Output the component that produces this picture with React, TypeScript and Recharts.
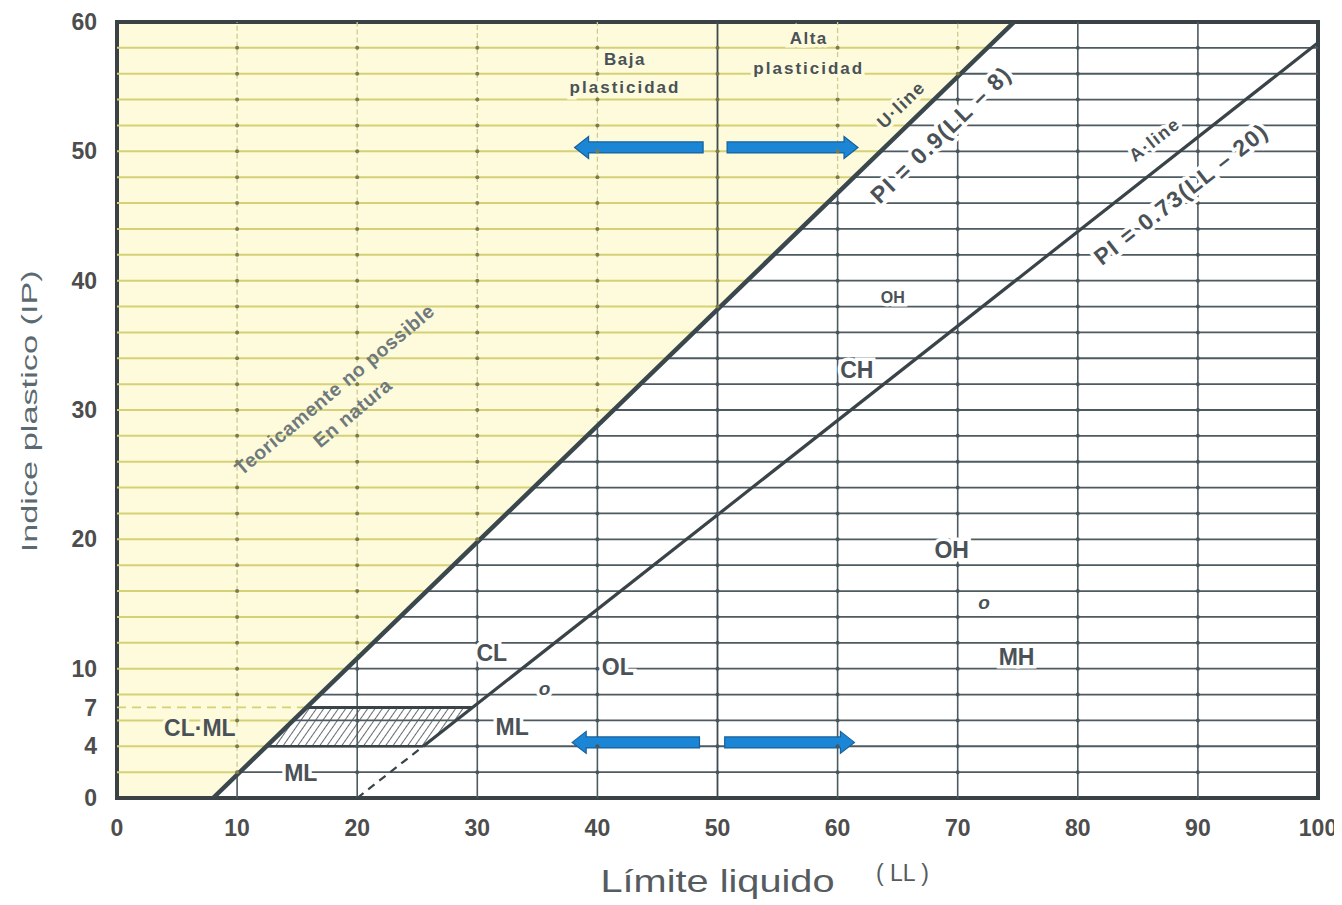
import React from 'react';
import {
  ComposedChart,
  XAxis,
  YAxis,
  Line,
  Area,
  Scatter,
  ReferenceLine,
  ReferenceDot,
  ReferenceArea,
} from 'recharts';

// axis ticks
const LL_TICKS = [0, 10, 20, 30, 40, 50, 60, 70, 80, 90, 100];
const PI_TICKS = [0, 4, 7, 10, 20, 30, 40, 50, 60];

// ruled paper lines
const PI_GRID = [2, 4, 6, 8, 10, 12, 14, 16, 18, 20, 22, 24, 26, 28, 30, 32, 34, 36, 38, 40, 42, 44, 46, 48, 50, 52, 54, 56, 58];
const LL_GRID = [10, 20, 30, 40, 60, 70, 80, 90];
const LL_DIVIDER = 50;

// U-line PI = 0.9(LL - 8), A-line PI = 0.73(LL - 20)
const U_LINE = [
  { ll: 8, pi: 0 },
  { ll: 74.7, pi: 60 },
];
const A_LINE = [
  { ll: 25.5, pi: 4 },
  { ll: 100, pi: 58.4 },
];
const A_LINE_DASHED = [
  { ll: 20, pi: 0 },
  { ll: 25.5, pi: 4 },
];
const CLML_TOP = [
  { ll: 15.8, pi: 7 },
  { ll: 29.6, pi: 7 },
];
const CLML_BOTTOM = [
  { ll: 12.4, pi: 4 },
  { ll: 25.5, pi: 4 },
];
const CLML_DASHED = [
  { ll: 0, pi: 7 },
  { ll: 15.8, pi: 7 },
];
const CLML_ZONE = [
  { ll: 12.4, lo: 4, hi: 4 },
  { ll: 15.8, lo: 4, hi: 7 },
  { ll: 25.5, lo: 4, hi: 7 },
  { ll: 29.6, lo: 7, hi: 7 },
];
const IMPOSSIBLE_ZONE = [
  { ll: 0, lo: 0, hi: 60 },
  { ll: 8, lo: 0, hi: 60 },
  { ll: 74.7, lo: 60, hi: 60 },
];

// blue arrows (tail LL, tip LL, PI)
const ARROWS = [
  { from: 48.8, to: 38.1, pi: 50.3 },
  { from: 50.8, to: 61.7, pi: 50.3 },
  { from: 48.5, to: 37.9, pi: 4.3 },
  { from: 50.6, to: 61.4, pi: 4.3 },
];

const FONT = "'Liberation Sans', Arial, sans-serif";
const YELLOW = '#fdfbdb';
const YELLOW_LINE = '#d6d177';
const DARK_LINE = '#4d5a60';
const TEXT = '#4a5257';

type Note = {
  ll: number;
  pi: number;
  text: string;
  size: number;
  angle?: number;
  halo?: string;
  italic?: boolean;
  weight?: number;
  color?: string;
  spacing?: number;
};

const NOTES: Note[] = [
  { ll: 42.3, pi: 57.1, text: 'Baja', size: 17, halo: YELLOW, spacing: 1.5 },
  { ll: 42.3, pi: 54.9, text: 'plasticidad', size: 17, halo: YELLOW, spacing: 2 },
  { ll: 57.6, pi: 58.7, text: 'Alta', size: 17, halo: YELLOW, spacing: 1.5 },
  { ll: 57.6, pi: 56.4, text: 'plasticidad', size: 17, halo: YELLOW, spacing: 2 },
  { ll: 65.3, pi: 53.6, text: 'U·line', size: 18, angle: -44, halo: YELLOW, spacing: 1.5 },
  { ll: 68.6, pi: 51.3, text: 'PI = 0.9(LL – 8)', size: 23, angle: -44, halo: '#ffffff', spacing: 1.5 },
  { ll: 86.4, pi: 50.9, text: 'A·line', size: 18, angle: -38, halo: '#ffffff', spacing: 1.5 },
  { ll: 88.6, pi: 46.7, text: 'PI = 0.73(LL – 20)', size: 23, angle: -38, halo: '#ffffff', spacing: 1.5 },
  { ll: 18.1, pi: 31.6, text: 'Teoricamente no possible', size: 19.5, angle: -40, weight: 700, color: '#6f797c', spacing: 0.6 },
  { ll: 19.6, pi: 29.8, text: 'En natura', size: 19.5, angle: -40, weight: 700, color: '#6f797c', spacing: 0.6 },
  { ll: 64.6, pi: 38.7, text: 'OH', size: 16, halo: '#ffffff' },
  { ll: 61.6, pi: 33.1, text: 'CH', size: 23, halo: '#ffffff' },
  { ll: 69.5, pi: 19.2, text: 'OH', size: 23, halo: '#ffffff' },
  { ll: 72.2, pi: 15.1, text: 'o', size: 19, halo: '#ffffff', italic: true },
  { ll: 74.9, pi: 10.9, text: 'MH', size: 23, halo: '#ffffff' },
  { ll: 31.2, pi: 11.2, text: 'CL', size: 23, halo: '#ffffff' },
  { ll: 41.7, pi: 10.1, text: 'OL', size: 23, halo: '#ffffff' },
  { ll: 35.6, pi: 8.5, text: 'o', size: 19, halo: '#ffffff', italic: true },
  { ll: 32.9, pi: 5.5, text: 'ML', size: 23, halo: '#ffffff' },
  { ll: 6.9, pi: 5.4, text: 'CL·ML', size: 23, halo: YELLOW },
  { ll: 15.3, pi: 1.9, text: 'ML', size: 23, halo: '#ffffff' },
];

const uLineLLAt = (pi: number) =>
  U_LINE[0].ll + ((pi - U_LINE[0].pi) * (U_LINE[1].ll - U_LINE[0].ll)) / (U_LINE[1].pi - U_LINE[0].pi);
const uLinePIAt = (ll: number) =>
  U_LINE[0].pi + ((ll - U_LINE[0].ll) * (U_LINE[1].pi - U_LINE[0].pi)) / (U_LINE[1].ll - U_LINE[0].ll);

// little dots where the ruled lines cross
const CROSSINGS = [...LL_GRID, LL_DIVIDER].flatMap((v) => PI_GRID.map((p) => ({ ll: v, pi: p })));

function seg(key: string, pts: { ll: number; pi: number }[], stroke: string, width: number, dash?: string) {
  return (
    <Line
      key={key}
      data={pts}
      dataKey="pi"
      stroke={stroke}
      strokeWidth={width}
      strokeDasharray={dash}
      dot={false}
      activeDot={false}
      legendType="none"
      isAnimationActive={false}
    />
  );
}

function Arrow(props: any) {
  const { x1, y1, x2 } = props;
  const dir = x2 > x1 ? 1 : -1;
  const h = 5.5;
  const H = 11;
  const L = 14;
  const b = x2 - dir * L;
  const pts = [
    [x1, y1 - h],
    [b, y1 - h],
    [b, y1 - H],
    [x2, y1],
    [b, y1 + H],
    [b, y1 + h],
    [x1, y1 + h],
  ]
    .map((p) => p.join(','))
    .join(' ');
  return <polygon points={pts} fill="#1c86d6" stroke="#17609c" strokeWidth={1.2} />;
}

function noteShape(n: Note) {
  return (props: any) => {
    const { cx, cy } = props;
    return (
      <text
        x={cx}
        y={cy}
        textAnchor="middle"
        dominantBaseline="central"
        transform={n.angle ? `rotate(${n.angle} ${cx} ${cy})` : undefined}
        fontFamily={FONT}
        fontSize={n.size}
        fontWeight={n.weight ?? 700}
        fontStyle={n.italic ? 'italic' : 'normal'}
        letterSpacing={n.spacing ?? 0}
        fill={n.color ?? TEXT}
        stroke={n.halo ?? 'none'}
        strokeWidth={n.halo ? 7 : 0}
        paintOrder="stroke"
      >
        {n.text}
      </text>
    );
  };
}

function CrossDot(props: any) {
  const { cx, cy, payload } = props;
  const inYellow = payload && payload.ll < uLineLLAt(payload.pi);
  return <circle cx={cx} cy={cy} r={2} fill={inYellow ? '#7d7a4c' : '#4a565b'} />;
}

export default function App() {
  return (
    <div style={{ width: 1334, height: 897, background: '#fff' }}>
      <ComposedChart width={1334} height={897} margin={{ top: 14, right: 24, left: 49, bottom: 67 }}>
        <defs>
          <pattern id="hatch" width="6" height="6" patternUnits="userSpaceOnUse" patternTransform="rotate(35)">
            <rect width="6" height="6" fill="#ffffff" />
            <line x1="0" y1="0" x2="0" y2="6" stroke="#3d4549" strokeWidth="1.6" />
          </pattern>
        </defs>
        <XAxis
          type="number"
          dataKey="ll"
          domain={[0, 100]}
          ticks={LL_TICKS}
          interval={0}
          allowDataOverflow
          axisLine={false}
          tickLine={false}
          tickSize={8}
          tickMargin={14}
          height={40}
          tick={{ fill: '#4d4d4d', fontSize: 23, fontWeight: 700, fontFamily: FONT }}
        />
        <YAxis
          type="number"
          dataKey="pi"
          domain={[0, 60]}
          ticks={PI_TICKS}
          interval={0}
          allowDataOverflow
          axisLine={false}
          tickLine={false}
          tickSize={8}
          tickMargin={12}
          width={60}
          tick={{ fill: '#4d4d4d', fontSize: 23, fontWeight: 700, fontFamily: FONT }}
        />

        <Area
          data={IMPOSSIBLE_ZONE}
          dataKey={(d: any) => [d.lo, d.hi]}
          type="linear"
          fill={YELLOW}
          fillOpacity={1}
          stroke="none"
          isAnimationActive={false}
          legendType="none"
          activeDot={false}
        />

        {PI_GRID.map((p) =>
          seg(`hy${p}`, [{ ll: 0, pi: p }, { ll: uLineLLAt(p), pi: p }], YELLOW_LINE, 2),
        )}
        {PI_GRID.map((p) =>
          seg(`hd${p}`, [{ ll: uLineLLAt(p), pi: p }, { ll: 100, pi: p }], DARK_LINE, 1.8),
        )}
        {LL_GRID.map((v) => {
          const cut = Math.max(0, Math.min(60, uLinePIAt(v)));
          return [
            cut < 60 ? seg(`vy${v}`, [{ ll: v, pi: cut }, { ll: v, pi: 60 }], '#cfcb93', 1.3, '5 3') : null,
            cut > 0 ? seg(`vd${v}`, [{ ll: v, pi: 0 }, { ll: v, pi: cut }], DARK_LINE, 1.6) : null,
          ];
        })}
        {seg('divider', [{ ll: LL_DIVIDER, pi: 0 }, { ll: LL_DIVIDER, pi: 60 }], '#3f4a4f', 1.8)}
        {seg('clmlDash', CLML_DASHED, YELLOW_LINE, 1.8, '9 6')}

        <Scatter
          data={CROSSINGS}
          dataKey="pi"
          shape={(p: any) => <CrossDot {...p} />}
          isAnimationActive={false}
          legendType="none"
        />

        <Area
          data={CLML_ZONE}
          dataKey={(d: any) => [d.lo, d.hi]}
          type="linear"
          fill="url(#hatch)"
          fillOpacity={1}
          stroke="none"
          isAnimationActive={false}
          legendType="none"
          activeDot={false}
        />

        {seg('clmlTop', CLML_TOP, '#3a4347', 3)}
        {seg('clmlBottom', CLML_BOTTOM, '#3a4347', 2.4)}
        {seg('aDash', A_LINE_DASHED, '#3a4347', 2.2, '8 6')}
        {seg('aLine', A_LINE, '#3a4347', 3.2)}
        {seg('uLine', U_LINE, '#3a474c', 4.5)}

        {ARROWS.map((a, i) => (
          <ReferenceLine
            key={`ar${i}`}
            segment={[
              { x: a.from, y: a.pi },
              { x: a.to, y: a.pi },
            ]}
            shape={(p: any) => <Arrow {...p} />}
            ifOverflow="visible"
          />
        ))}

        <ReferenceArea
          x1={0}
          x2={100}
          y1={0}
          y2={60}
          fill="none"
          stroke="#3b4246"
          strokeWidth={4}
          ifOverflow="visible"
        />

        {NOTES.map((n, i) => (
          <ReferenceDot key={`n${i}`} x={n.ll} y={n.pi} r={0} ifOverflow="visible" shape={noteShape(n)} />
        ))}

        <ReferenceDot
          x={-7.3}
          y={29.9}
          r={0}
          ifOverflow="visible"
          shape={(p: any) => (
            <text
              x={p.cx}
              y={p.cy}
              textAnchor="middle"
              dominantBaseline="central"
              transform={`rotate(-90 ${p.cx} ${p.cy})`}
              fontFamily={FONT}
              fontSize={22}
              fill="#5b6a71"
              textLength={282}
              lengthAdjust="spacingAndGlyphs"
            >
              Indice plastico (IP)
            </text>
          )}
        />
        <ReferenceDot
          x={50}
          y={-6.4}
          r={0}
          ifOverflow="visible"
          shape={(p: any) => (
            <text
              x={p.cx}
              y={p.cy}
              textAnchor="middle"
              dominantBaseline="central"
              fontFamily={FONT}
              fontSize={32}
              fill="#555b5e"
              textLength={234}
              lengthAdjust="spacingAndGlyphs"
            >
              Límite liquido
            </text>
          )}
        />
        <ReferenceDot
          x={65.4}
          y={-5.8}
          r={0}
          ifOverflow="visible"
          shape={(p: any) => (
            <text
              x={p.cx}
              y={p.cy}
              textAnchor="middle"
              dominantBaseline="central"
              fontFamily={FONT}
              fontSize={23}
              fill="#555b5e"
            >
              ( LL )
            </text>
          )}
        />
      </ComposedChart>
    </div>
  );
}
